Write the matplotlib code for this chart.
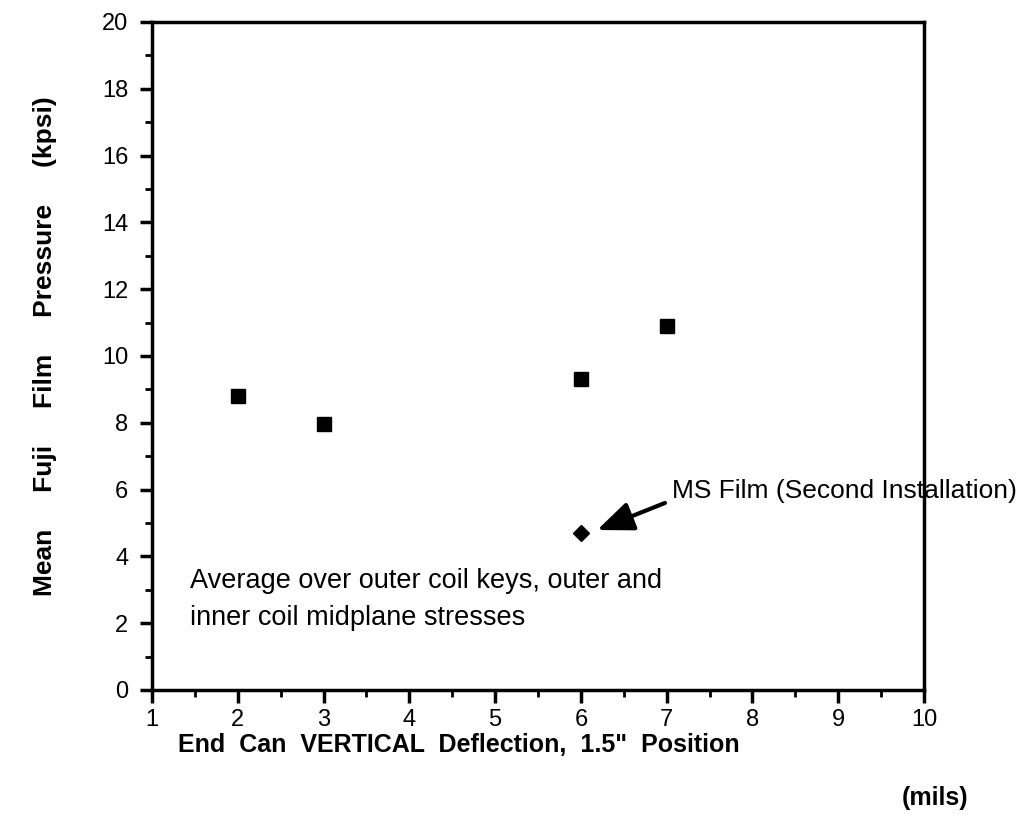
import matplotlib
matplotlib.use("Agg")
import matplotlib.pyplot as plt
from matplotlib.ticker import MultipleLocator

plt.rcParams['font.family'] = ['Liberation Sans', 'DejaVu Sans']

fuji_x = [2, 3, 6, 7]
fuji_y = [8.8, 7.95, 9.3, 10.9]
ms_x = [6]
ms_y = [4.7]
x_ticks = [1, 2, 3, 4, 5, 6, 7, 8, 9, 10]
y_ticks = [0, 2, 4, 6, 8, 10, 12, 14, 16, 18, 20]

fig = plt.figure(figsize=(10.29, 8.19), dpi=100)
ax = fig.add_axes([152/1029, 1-690/819, (924-152)/1029, (690-22)/819])

ax.plot(fuji_x, fuji_y, linestyle='none', marker='s', markersize=10, color='black')
ax.plot(ms_x, ms_y, linestyle='none', marker='D', markersize=8, color='black')

ax.set_xlim(1, 10)
ax.set_ylim(0, 20)
ax.set_xticks(x_ticks)
ax.set_yticks(y_ticks)
ax.xaxis.set_minor_locator(MultipleLocator(0.5))
ax.yaxis.set_minor_locator(MultipleLocator(1))
ax.tick_params(which='major', direction='out', length=9, width=2.5, labelsize=17, colors='black')
ax.tick_params(axis='x', which='major', pad=5)
ax.tick_params(axis='y', which='major', pad=8)
ax.tick_params(which='minor', direction='out', length=5, width=2)
ax.tick_params(top=False, right=False, which='both')
for s in ax.spines.values():
    s.set_linewidth(2.5)

fig.text(45/1029, 1-346/819, 'Mean     Fuji     Film     Pressure     (kpsi)', rotation=90,
         fontsize=19, fontweight='bold', va='center', ha='center')
fig.text(178/1029, 1-745/819, 'End  Can  VERTICAL  Deflection,  1.5"  Position',
         fontsize=18, fontweight='bold', va='center', ha='left')
fig.text(935/1029, 1-798/819, '(mils)', fontsize=18, fontweight='bold', va='center', ha='center')

ax.text(1.44, 2.7, 'Average over outer coil keys, outer and\ninner coil midplane stresses',
        fontsize=19.5, va='center', ha='left', linespacing=1.55)

ax.text(7.06, 5.96, 'MS Film (Second Installation)', fontsize=19, ha='left', va='center')
ax.annotate('', xy=(6.19, 4.79), xytext=(6.98, 5.6),
            arrowprops=dict(arrowstyle='-|>,head_length=1.1,head_width=0.45', color='black', lw=3,
                            mutation_scale=20, shrinkA=0, shrinkB=0))

fig.savefig('out.png', dpi=100)
